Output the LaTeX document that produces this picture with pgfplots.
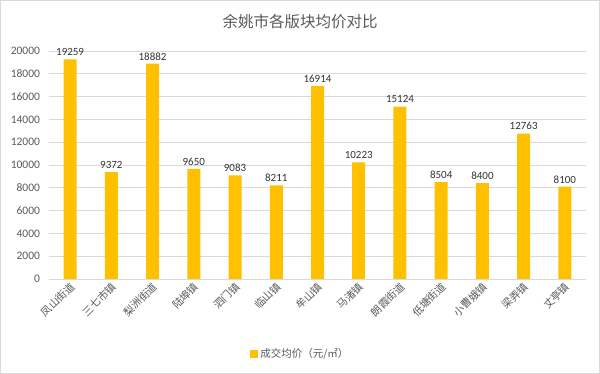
\documentclass[border=0pt]{standalone}
\usepackage{pgfplots}
\pgfplotsset{compat=1.18}
\usepackage{fontspec}
\setmainfont{Noto Sans CJK SC}
\newfontfamily\cjk{Noto Sans CJK SC}
\newfontfamily\carlito{Carlito}
\definecolor{barc}{HTML}{FFC000}
\definecolor{txt}{HTML}{595959}
\definecolor{gridc}{HTML}{D9D9D9}
\begin{document}
\begin{tikzpicture}
\path[use as bounding box] (0,0) rectangle (600bp,374bp);
\draw[gridc, line width=0.8bp] (0.5bp,0.5bp) rectangle (599.5bp,373.5bp);
\node[text=txt, font=\cjk\fontsize{15.5bp}{18bp}\selectfont] at (300bp,352bp) {余姚市各版块均价对比};
\begin{axis}[
  at={(49.5bp,95bp)}, anchor=south west,
  scale only axis, width=536bp, height=228bp,
  xmin=-0.5, xmax=12.5, ymin=0, ymax=20000,
  ytick={0,2000,...,20000},
  xtick={0,...,12},
  xticklabels={凤山街道,三七市镇,梨洲街道,陆埠镇,泗门镇,临山镇,牟山镇,马渚镇,朗霞街道,低塘街道,小曹娥镇,梁弄镇,丈亭镇},
  x tick label style={rotate=45, anchor=east, font=\cjk\fontsize{10.5bp}{12bp}\selectfont, text=txt, inner sep=1bp, yshift=-6bp, xshift=-1bp},
  y tick label style={font=\carlito\fontsize{11.5bp}{13bp}\selectfont, text=txt, xshift=-6bp},
  /pgf/number format/assume math mode=true,
  scaled y ticks=false,
  yticklabel={\pgfmathprintnumber[fixed,1000 sep={}]{\tick}},
  ymajorgrids, grid style={gridc, line width=0.7bp},
  major tick length=0pt,
  axis x line*=bottom, axis y line*=left,
  y axis line style={draw=none},
  x axis line style={gridc, line width=0.8bp, -},
  ybar, bar width=13bp,
  nodes near coords,
  every node near coord/.append style={font=\carlito\fontsize{11bp}{13bp}\selectfont, text=black!80, /pgf/number format/.cd, fixed, 1000 sep={}},
  legend style={at={(0.468,-0.329)}, anchor=center, draw=none, font=\cjk\fontsize{10.5bp}{12bp}\selectfont, text=txt},
  legend image code/.code={\fill[barc] (0bp,-4bp) rectangle (8bp,4bp);},
]
\addplot[fill=barc, draw=none] coordinates {
(0,19259) (1,9372) (2,18882) (3,9650) (4,9083) (5,8211) (6,16914) (7,10223) (8,15124) (9,8504) (10,8400) (11,12763) (12,8100)};
\addlegendentry{成交均价（元/㎡）}
\end{axis}
\end{tikzpicture}
\end{document}
